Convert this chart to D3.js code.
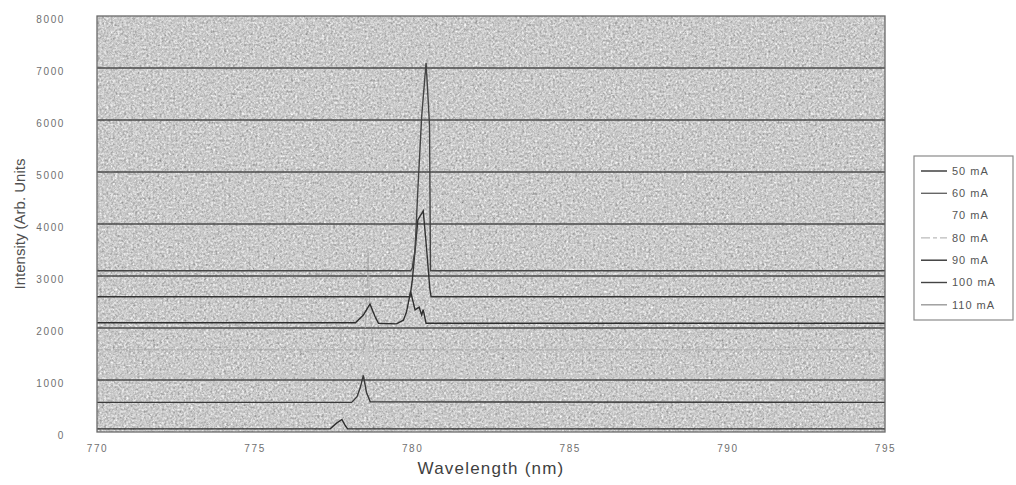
<!DOCTYPE html>
<html>
<head>
<meta charset="utf-8">
<script src="https://cdn.jsdelivr.net/npm/d3@7"></script>
<style>
  body { margin: 0; background: #fff; }
  svg { display: block; }
  .tick text { font-family: "Liberation Sans", Arial, sans-serif; }
</style>
</head>
<body>
<div id="chart"></div>
<script>
// Spectra, one array of [wavelength, intensity] per current
const currents = ["50 mA", "60 mA", "70 mA", "80 mA", "90 mA", "100 mA", "110 mA"];

const s50 = [[770, 60], [777.4, 60], [777.6, 170], [777.77, 240], [777.88, 120], [777.95, 60], [795, 60]];
const s60 = [[770, 570], [778.08, 570], [778.25, 680], [778.35, 850], [778.45, 1090], [778.55, 760], [778.67, 580], [795, 570]];
const s70 = [[770, 1080], [778.35, 1080], [778.5, 1400], [778.55, 1650], [778.62, 1300], [778.75, 1080], [795, 1080]];
const s80 = [[770, 1580], [778.45, 1580], [778.55, 2300], [778.6, 3450], [778.66, 2300], [778.78, 1580], [795, 1580]];
const s90 = [[770, 2100], [778.2, 2100], [778.45, 2250], [778.66, 2460], [778.82, 2220], [778.93, 2090],
             [779.5, 2080], [779.72, 2150], [779.82, 2310], [779.95, 2700], [780.09, 2350], [780.22, 2400],
             [780.3, 2250], [780.35, 2350], [780.44, 2090], [795, 2090]];
const s100 = [[770, 2600], [779.93, 2600], [780.0, 2900], [780.18, 4080], [780.35, 4250], [780.46, 3500],
              [780.56, 2750], [780.6, 2600], [795, 2600]];
const s110 = [[770, 3100], [779.95, 3100], [780.0, 3150], [780.09, 3500], [780.19, 4790], [780.3, 6060],
              [780.44, 7100], [780.55, 5900], [780.58, 3100], [795, 3100]];

const seriesData = [s50, s60, s70, s80, s90, s100, s110];

const xTicks = [770, 775, 780, 785, 790, 795];
const yTicks = [0, 1000, 2000, 3000, 4000, 5000, 6000, 7000, 8000];

// look of each series (plot line / legend sample)
const lineColors = ["#2e2e2e", "#3a3a3a", "#c8c8c8", "#a8a8a8", "#2e2e2e", "#333333", "#444444"];
const legendColors = ["#333", "#666", "#fff", "#bbb", "#333", "#444", "#999"];
const dashes = [null, null, null, "6,2", null, null, null];

const width = 1016, height = 485;
const margin = { top: 16, right: 131, bottom: 53, left: 97 };

const svg = d3.select("#chart").append("svg")
    .attr("width", width)
    .attr("height", height);

const x = d3.scaleLinear().domain([770, 795]).range([margin.left, width - margin.right]);
const y = d3.scaleLinear().domain([0, 8000]).range([height - margin.bottom, margin.top]);

// grainy scanned-gray background
const defs = svg.append("defs");
const grain = defs.append("filter").attr("id", "grain")
    .attr("x", 0).attr("y", 0).attr("width", 1).attr("height", 1)
    .attr("color-interpolation-filters", "sRGB");
grain.append("feTurbulence")
    .attr("type", "fractalNoise")
    .attr("baseFrequency", "0.45")
    .attr("numOctaves", 4)
    .attr("seed", 7);
grain.append("feColorMatrix")
    .attr("type", "matrix")
    .attr("values", "0.33 0.33 0.33 0 0  0.33 0.33 0.33 0 0  0.33 0.33 0.33 0 0  0 0 0 0 1");
const ct = grain.append("feComponentTransfer");
["feFuncR", "feFuncG", "feFuncB"].forEach(f => {
    ct.append(f).attr("type", "linear").attr("slope", 0.85).attr("intercept", 0.37);
});

const plotW = x(795) - x(770), plotH = y(0) - y(8000);

svg.append("rect")
    .attr("x", x(770)).attr("y", y(8000))
    .attr("width", plotW).attr("height", plotH)
    .attr("fill", "#c8c8c8");
svg.append("rect")
    .attr("x", x(770)).attr("y", y(8000))
    .attr("width", plotW).attr("height", plotH)
    .attr("filter", "url(#grain)");

// horizontal gridlines
svg.append("g")
    .selectAll("line")
    .data(yTicks.slice(1, -1))
    .enter().append("line")
    .attr("x1", x(770)).attr("x2", x(795))
    .attr("y1", d => y(d)).attr("y2", d => y(d))
    .attr("stroke", "#4a4a4a")
    .attr("stroke-width", 1.3);

// spectra
const line = d3.line().x(d => x(d[0])).y(d => y(d[1]));
svg.append("g")
    .selectAll("path")
    .data(seriesData)
    .enter().append("path")
    .attr("d", line)
    .attr("fill", "none")
    .attr("stroke", (d, i) => lineColors[i])
    .attr("stroke-width", (d, i) => i === 3 ? 1 : 1.4)
    .attr("stroke-dasharray", (d, i) => dashes[i]);

// plot frame
svg.append("rect")
    .attr("x", x(770)).attr("y", y(8000))
    .attr("width", plotW).attr("height", plotH)
    .attr("fill", "none")
    .attr("stroke", "#6a6a6a")
    .attr("stroke-width", 1.3);

// axes
const xAxis = svg.append("g")
    .attr("transform", `translate(0,${y(0)})`)
    .call(d3.axisBottom(x).tickValues(xTicks).tickSize(0).tickPadding(13).tickFormat(d3.format("d")));
const yAxis = svg.append("g")
    .attr("transform", `translate(${x(770)},0)`)
    .call(d3.axisLeft(y).tickValues(yTicks).tickSize(0).tickPadding(32).tickFormat(d3.format("d")));

[xAxis, yAxis].forEach(a => {
    a.select(".domain").remove();
    a.selectAll("text")
        .attr("fill", "#6f6f6f")
        .style("font-size", "10px")
        .style("letter-spacing", "1.6px");
});
yAxis.selectAll("text").attr("dy", "0.6em");

// axis titles
svg.append("text")
    .attr("x", (x(770) + x(795)) / 2)
    .attr("y", 474)
    .attr("text-anchor", "middle")
    .attr("fill", "#3f3f3f")
    .style("font-family", "'Liberation Sans', Arial, sans-serif")
    .style("font-size", "17px")
    .style("letter-spacing", "1.2px")
    .text("Wavelength (nm)");

svg.append("text")
    .attr("transform", `translate(25,${y(4000)}) rotate(-90)`)
    .attr("text-anchor", "middle")
    .attr("fill", "#505050")
    .style("font-family", "'Liberation Sans', Arial, sans-serif")
    .style("font-size", "15px")
    .text("Intensity (Arb. Units");

// legend
const legend = svg.append("g").attr("transform", "translate(914,156)");
legend.append("rect")
    .attr("width", 99).attr("height", 164)
    .attr("fill", "#fff")
    .attr("stroke", "#8a8a8a")
    .attr("stroke-width", 1.2);

const item = legend.selectAll("g.item")
    .data(currents)
    .enter().append("g")
    .attr("class", "item")
    .attr("transform", (d, i) => `translate(0,${15 + i * 22.3})`);

item.append("line")
    .attr("x1", 7).attr("x2", 33)
    .attr("stroke", (d, i) => legendColors[i])
    .attr("stroke-width", 1.4)
    .attr("stroke-dasharray", (d, i) => i === 3 ? "9,3,4,3" : null);

item.append("text")
    .attr("x", 38)
    .attr("dy", "0.35em")
    .attr("fill", "#555")
    .style("font-family", "'Liberation Sans', Arial, sans-serif")
    .style("font-size", "11px")
    .style("letter-spacing", "1px")
    .text(d => d);
</script>
</body>
</html>
